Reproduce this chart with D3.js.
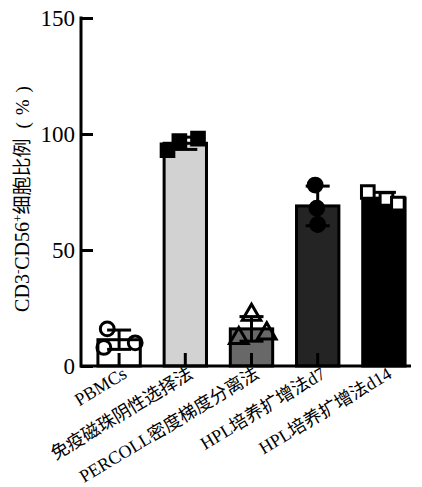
<!DOCTYPE html>
<html>
<head>
<meta charset="utf-8">
<script src="https://cdn.jsdelivr.net/npm/d3@7"></script>
<style>
  html, body { margin: 0; padding: 0; background: #fff; }
  svg { display: block; }
</style>
</head>
<body>
<svg id="chart" width="422" height="487"></svg>
<script>
// Groups on the x axis
const categories = ["PBMCs", "免疫磁珠阴性选择法", "PERCOLL密度梯度分离法", "HPL培养扩增法d7", "HPL培养扩增法d14"];
// Replicate measurements (%) for each group
const replicates = [
  [16, 10, 8],
  [93, 97, 98],
  [22, 12, 14],
  [78, 68, 61],
  [75, 72, 70]
];
// Horizontal spread of the replicate dots, as a fraction of the bar width
const jitter = [
  [-0.28, 0.38, -0.36],
  [-0.42, -0.14, 0.30],
  [0.0, -0.30, 0.36],
  [-0.06, -0.02, 0.0],
  [-0.38, 0.06, 0.33]
];
const yTicks = [0, 50, 100, 150];
const barFills = ["#ffffff", "#d2d2d2", "#686868", "#242424", "#000000"];
const markers = ["circle", "square", "triangle", "circle", "square"];
const markerFilled = [false, true, false, true, false];

const svg = d3.select("#chart");
const serif = "'Liberation Serif', 'Times New Roman', 'Noto Sans CJK SC', serif";

const y = d3.scaleLinear().domain([0, 150]).range([366, 18]);
const x = d3.scaleBand().domain(categories).range([86, 417]).paddingInner(0.36).paddingOuter(0.18);

const stats = replicates.map(v => ({ mean: d3.mean(v), sd: d3.deviation(v) }));

// Bars
svg.append("g").selectAll("rect").data(categories).join("rect")
  .attr("x", d => x(d))
  .attr("width", x.bandwidth())
  .attr("y", (d, i) => y(stats[i].mean))
  .attr("height", (d, i) => y(0) - y(stats[i].mean))
  .attr("fill", (d, i) => barFills[i])
  .attr("stroke", "#000")
  .attr("stroke-width", 3);

// X axis: inward ticks, rotated labels
const xAxis = svg.append("g").attr("transform", `translate(0,${y(0)})`)
  .call(d3.axisBottom(x).tickSize(-13).tickSizeOuter(0).tickFormat(""));
xAxis.select(".domain").remove();
xAxis.selectAll(".tick line").attr("stroke", "#000").attr("stroke-width", 3);
svg.append("line")
  .attr("x1", 80).attr("x2", 411)
  .attr("y1", y(0)).attr("y2", y(0))
  .attr("stroke", "#000").attr("stroke-width", 3);

svg.append("g").selectAll("text").data(categories).join("text")
  .attr("transform", d => `translate(${x(d) + x.bandwidth() / 2 + 9},${y(0) + 11}) rotate(-31)`)
  .attr("text-anchor", "end")
  .attr("font-family", serif)
  .attr("font-size", 18)
  .attr("fill", "#000")
  .text(d => d);

// Error bars (mean ± SD)
const capHalf = 12;
const eb = svg.append("g").attr("stroke", "#000").attr("stroke-width", 3);
categories.forEach((c, i) => {
  const cx = x(c) + x.bandwidth() / 2;
  const lo = y(stats[i].mean - stats[i].sd), hi = y(stats[i].mean + stats[i].sd);
  eb.append("line").attr("x1", cx).attr("x2", cx).attr("y1", hi).attr("y2", lo);
  eb.append("line").attr("x1", cx - capHalf).attr("x2", cx + capHalf).attr("y1", hi).attr("y2", hi);
  eb.append("line").attr("x1", cx - capHalf).attr("x2", cx + capHalf).attr("y1", lo).attr("y2", lo);
});

// Replicate points
const symbolType = { circle: d3.symbolCircle, square: d3.symbolSquare, triangle: d3.symbolTriangle };
const symbolSize = { circle: 150, square: 160, triangle: 150 };
const pts = svg.append("g");
categories.forEach((c, i) => {
  const cx = x(c) + x.bandwidth() / 2;
  replicates[i].forEach((v, j) => {
    const shape = markers[i];
    pts.append("path")
      .attr("d", d3.symbol().type(symbolType[shape]).size(symbolSize[shape])())
      .attr("transform", `translate(${cx + jitter[i][j] * x.bandwidth()},${y(v)})`)
      .attr("fill", markerFilled[i] ? "#000" : (shape === "square" ? "#fff" : "none"))
      .attr("stroke", "#000")
      .attr("stroke-width", 3);
  });
});

// Y axis with inward ticks
const yAxis = svg.append("g").attr("transform", "translate(81,0)")
  .call(d3.axisLeft(y).tickValues(yTicks).tickSize(-12).tickSizeOuter(0).tickPadding(6));
yAxis.select(".domain").attr("stroke", "#000").attr("stroke-width", 3)
  .attr("d", `M0,${y(0) + 1.5}V${y(150) - 1.5}`);
yAxis.selectAll(".tick line").attr("stroke", "#000").attr("stroke-width", 3);
yAxis.selectAll(".tick text")
  .attr("font-family", serif).attr("font-size", 23).attr("fill", "#000");

// Y axis title
const title = svg.append("text")
  .attr("transform", "translate(29,199) rotate(-90)")
  .attr("text-anchor", "middle")
  .attr("font-family", serif)
  .attr("font-size", 20)
  .attr("fill", "#000");
title.append("tspan").text("CD3");
title.append("tspan").attr("font-size", 13).attr("baseline-shift", "super").text("-");
title.append("tspan").text("CD56");
title.append("tspan").attr("font-size", 13).attr("baseline-shift", "super").text("+");
title.append("tspan").attr("font-size", 19).text("细胞比例");
title.append("tspan").attr("font-size", 19).attr("dx", 10).text("(");
title.append("tspan").attr("font-size", 19).attr("dx", 7).text("%");
title.append("tspan").attr("font-size", 19).attr("dx", 7).text(")");
</script>
</body>
</html>
